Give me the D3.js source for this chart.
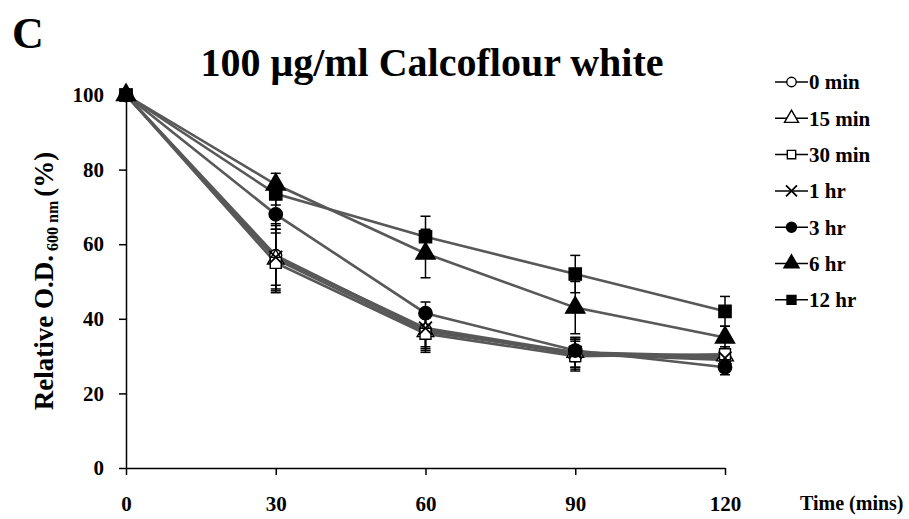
<!DOCTYPE html>
<html>
<head>
<meta charset="utf-8">
<script src="https://cdn.jsdelivr.net/npm/d3@7"></script>
<style>
  html, body { margin: 0; padding: 0; background: #fff; }
  svg text { font-family: "Liberation Serif", "Times New Roman", serif; font-weight: bold; fill: #000; }
</style>
</head>
<body>
<svg id="chart" width="909" height="519"></svg>
<script>
// Time points (mins) on the x axis
const times = [0, 30, 60, 90, 120];
const yTicks = [0, 20, 40, 60, 80, 100];

// Pre-incubation groups
const groups = ["0 min", "15 min", "30 min", "1 hr", "3 hr", "6 hr", "12 hr"];

// Relative O.D.600 (%) per group, one value per time point
const od0min  = [100, 57.0, 37.0, 30.5, 29.0];
const od15min = [100, 56.0, 36.5, 31.0, 30.0];
const od30min = [100, 55.0, 36.0, 30.0, 30.5];
const od1hr   = [100, 56.5, 37.5, 31.0, 29.5];
const od3hr   = [100, 68.0, 41.5, 31.5, 27.0];
const od6hr   = [100, 76.0, 57.5, 43.0, 35.0];
const od12hr  = [100, 73.5, 62.0, 52.0, 42.0];

// Standard deviations for the same points
const sd0min  = [0, 8, 5, 4, 2];
const sd15min = [0, 8, 5, 4, 2];
const sd30min = [0, 8, 5, 4, 2];
const sd1hr   = [0, 9, 5, 4, 2];
const sd3hr   = [0, 4, 3, 3, 2];
const sd6hr   = [0, 3, 6.5, 7, 3];
const sd12hr  = [0, 3, 5.5, 5, 4];

const seriesValues = [od0min, od15min, od30min, od1hr, od3hr, od6hr, od12hr];
const seriesErrors = [sd0min, sd15min, sd30min, sd1hr, sd3hr, sd6hr, sd12hr];

// Marker style per group: symbol type, filled or open, size for plot and legend
const markerStyle = [
  { type: d3.symbolCircle,   fill: false, size: 110, lsize: 70 },
  { type: d3.symbolTriangle, fill: false, size: 120, lsize: 85 },
  { type: d3.symbolSquare,   fill: false, size: 120, lsize: 70 },
  { type: d3.symbolX,        fill: false, size: 110, lsize: 80 },
  { type: d3.symbolCircle,   fill: true,  size: 140, lsize: 80 },
  { type: d3.symbolTriangle, fill: true,  size: 160, lsize: 100 },
  { type: d3.symbolSquare,   fill: true,  size: 150, lsize: 80 }
];

const data = groups.map((g, i) => ({
  name: g,
  style: markerStyle[i],
  points: times.map((t, j) => ({ t, v: seriesValues[i][j], e: seriesErrors[i][j] }))
}));

const svg = d3.select("#chart");

const x = d3.scaleLinear().domain([0, 120]).range([126, 725]);
const y = d3.scaleLinear().domain([0, 100]).range([468, 95]);

// Axes
const yAxis = d3.axisLeft(y).tickValues(yTicks).tickSize(7).tickSizeOuter(0).tickPadding(15);
const xAxis = d3.axisBottom(x).tickValues(times).tickSize(7).tickSizeOuter(0).tickPadding(21);

const gy = svg.append("g").attr("transform", `translate(${x(0)},0)`).call(yAxis);
const gx = svg.append("g").attr("transform", `translate(0,${y(0)})`).call(xAxis);
[gy, gx].forEach(g => {
  g.selectAll("path.domain").attr("stroke", "#000").attr("stroke-width", 1.5);
  g.selectAll(".tick line").attr("stroke", "#000").attr("stroke-width", 1.5);
  g.selectAll(".tick text")
    .style("font-family", "'Liberation Serif', 'Times New Roman', serif")
    .style("font-weight", "bold")
    .style("font-size", "21px")
    .attr("fill", "#000");
});

// Series lines
const line = d3.line().x(d => x(d.t)).y(d => y(d.v));
svg.append("g").selectAll("path")
  .data(data)
  .join("path")
  .attr("d", d => line(d.points))
  .attr("fill", "none")
  .attr("stroke", "#585858")
  .attr("stroke-width", 2.6);

// Error bars
const capHalf = 5;
const eb = svg.append("g").attr("stroke", "#000").attr("stroke-width", 1.5);
data.forEach(s => {
  s.points.filter(p => p.e > 0).forEach(p => {
    const cx = x(p.t);
    eb.append("line").attr("x1", cx).attr("x2", cx).attr("y1", y(p.v - p.e)).attr("y2", y(p.v + p.e));
    eb.append("line").attr("x1", cx - capHalf).attr("x2", cx + capHalf).attr("y1", y(p.v + p.e)).attr("y2", y(p.v + p.e));
    eb.append("line").attr("x1", cx - capHalf).attr("x2", cx + capHalf).attr("y1", y(p.v - p.e)).attr("y2", y(p.v - p.e));
  });
});

// Markers
function drawMarker(g, st, size) {
  g.append("path")
    .attr("d", d3.symbol().type(st.type).size(size)())
    .attr("fill", st.fill ? "#000" : "#fff")
    .attr("stroke", "#000")
    .attr("stroke-width", st.type === d3.symbolX ? 1.8 : 1.4);
}
data.forEach(s => {
  s.points.forEach(p => {
    const g = svg.append("g").attr("transform", `translate(${x(p.t)},${y(p.v)})`);
    drawMarker(g, s.style, s.style.size);
  });
});

// Legend
const legend = svg.append("g").attr("transform", "translate(775,82)");
data.forEach((s, i) => {
  const row = legend.append("g").attr("transform", `translate(0,${i * 36.3})`);
  row.append("line").attr("x1", 0).attr("x2", 33).attr("y1", 0).attr("y2", 0)
    .attr("stroke", "#000").attr("stroke-width", 1.5);
  const m = row.append("g").attr("transform", "translate(16.5,0)");
  drawMarker(m, s.style, s.style.lsize);
  row.append("text").attr("x", 34).attr("y", 0).attr("dy", "0.35em")
    .style("font-size", "21px").text(s.name);
});

// Panel letter and title
svg.append("text").attr("x", 12).attr("y", 48).style("font-size", "44px").text("C");
svg.append("text").attr("x", 432).attr("y", 76).attr("text-anchor", "middle")
  .style("font-size", "40px").text("100 μg/ml  Calcoflour white");

// Axis titles
const yt = svg.append("text")
  .attr("transform", "translate(53,281) rotate(-90)")
  .attr("text-anchor", "middle")
  .style("font-size", "27px");
yt.append("tspan").text("Relative O.D.");
yt.append("tspan").attr("dy", 5).style("font-size", "16px").text(" 600 nm ");
yt.append("tspan").attr("dy", -5).text("(%)");

svg.append("text").attr("x", 800).attr("y", 503).attr("dy", "0.35em")
  .style("font-size", "20px").text("Time (mins)");
</script>
</body>
</html>
